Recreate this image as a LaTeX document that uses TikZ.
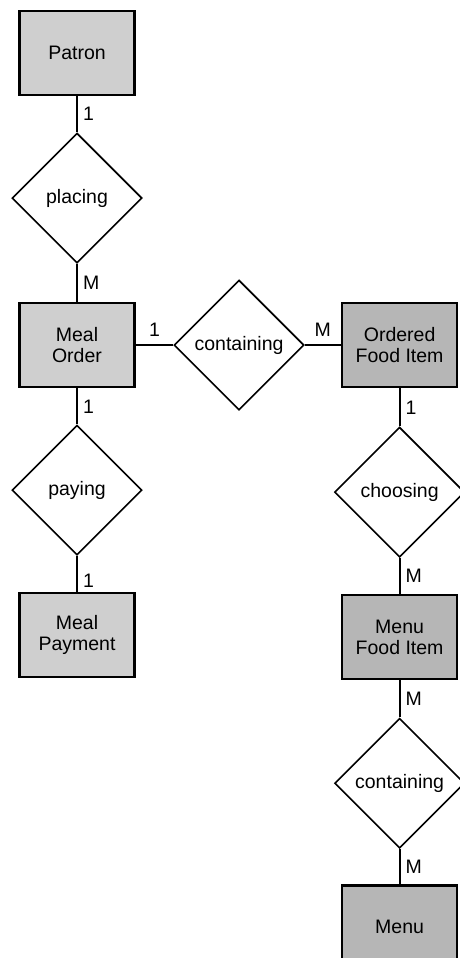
\documentclass[tikz,border=0pt]{standalone}
\usepackage{fontspec}
\setmainfont{Liberation Sans}
\usetikzlibrary{positioning,shapes.geometric}
\definecolor{entfill}{HTML}{CFCFCF}
\definecolor{entdark}{HTML}{B6B6B6}

\begin{document}
\begin{tikzpicture}[x=1pt,y=-1pt,node distance=36pt,
    ent/.style={draw=black,line width=2.5pt,fill=entfill,minimum width=115pt,minimum height=84pt,
      align=center,inner sep=2pt,font=\fontsize{19.5}{21}\selectfont},
    entd/.style={ent,fill=entdark},
    rel/.style={diamond,draw=black,line width=1.6pt,fill=white,aspect=1,minimum width=130pt,
      minimum height=130pt,inner sep=0pt,font=\fontsize{19.5}{21}\selectfont},
    link/.style={line width=2.2pt},
    card/.style={font=\fontsize{19.5}{21}\selectfont,inner sep=5pt}]
    \useasboundingbox (0,0) rectangle (459,958);
    % left column
    \node[ent](patron) at (77,53){Patron};
    \node[rel,below=36pt of patron](placing){placing};
    \node[ent,below=38pt of placing](mealorder){Meal\\Order};
    \node[rel,below=36pt of mealorder](paying){paying};
    \node[ent,below=36pt of paying](mealpay){Meal\\Payment};
    % right column
    \node[rel,right=37.5pt of mealorder](contA){containing};
    \node[entd,right=36pt of contA](ordered){Ordered\\Food Item};
    \node[rel,below=38pt of ordered](choosing){choosing};
    \node[entd,below=36pt of choosing](menufood){Menu\\Food Item};
    \node[rel,below=37pt of menufood](contB){containing};
    \node[entd,below=35pt of contB](menu){Menu};
    % connectors
    \draw[link](patron)--node[card,right]{1}(placing);
    \draw[link](placing)--node[card,right]{M}(mealorder);
    \draw[link](mealorder)--node[card,right]{1}(paying);
    \draw[link](paying)--node[card,right,pos=.7]{1}(mealpay);
    \draw[link](mealorder)--node[card,above=3pt]{1}(contA);
    \draw[link](contA)--node[card,above=3pt]{M}(ordered);
    \draw[link](ordered)--node[card,right]{1}(choosing);
    \draw[link](choosing)--node[card,right]{M}(menufood);
    \draw[link](menufood)--node[card,right]{M}(contB);
    \draw[link](contB)--node[card,right]{M}(menu);
\end{tikzpicture}
\end{document}
